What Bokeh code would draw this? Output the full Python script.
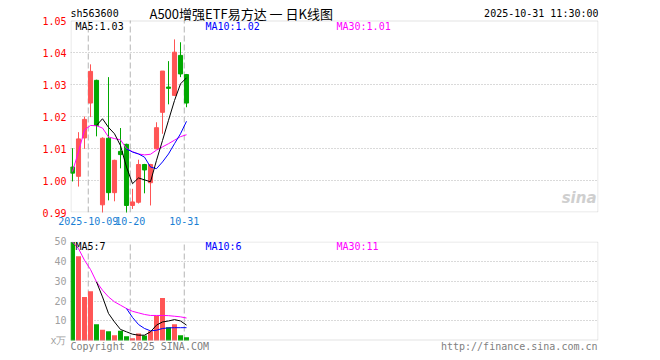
from bokeh.plotting import figure
from bokeh.models import Range1d, FixedTicker, Label, NumeralTickFormatter, BoxAnnotation
from bokeh.layouts import column
from bokeh.embed import file_html
from bokeh.resources import INLINE

# ---------------- data ----------------
dates = ["2025-09-26", "2025-09-29", "2025-09-30", "2025-10-09", "2025-10-10",
         "2025-10-13", "2025-10-14", "2025-10-15", "2025-10-16", "2025-10-17",
         "2025-10-20", "2025-10-21", "2025-10-22", "2025-10-23", "2025-10-24",
         "2025-10-27", "2025-10-28", "2025-10-29", "2025-10-30", "2025-10-31"]
opens  = [1.0042, 1.0013, 1.0133, 1.0242, 1.0313, 0.9924, 1.0132, 0.9962, 1.0091, 1.0113,
          0.9922, 0.9932, 1.0050, 0.9993, 1.0099, 1.0213, 1.0292, 1.0266, 1.0391, 1.0331]
highs  = [1.0101, 1.0151, 1.0200, 1.0363, 1.0315, 1.0135, 1.0323, 1.0065, 1.0164, 1.0115,
          0.9974, 1.0065, 1.0052, 1.0052, 1.0182, 1.0342, 1.0373, 1.0441, 1.0432, 1.0333]
lows   = [0.9997, 0.9981, 1.0099, 1.0198, 1.0138, 0.9898, 0.9938, 0.9935, 1.0038, 0.9898,
          0.9911, 0.9928, 0.9960, 0.9922, 1.0098, 1.0146, 1.0238, 1.0264, 1.0323, 1.0229]
closes = [1.0023, 1.0130, 1.0191, 1.0341, 1.0172, 1.0132, 0.9962, 1.0063, 1.0081, 0.9922,
          0.9933, 1.0050, 1.0033, 1.0050, 1.0165, 1.0342, 1.0288, 1.0401, 1.0333, 1.0242]
NaN = float("nan")
ma5  = [NaN, NaN, NaN, NaN, 1.0172, 1.0193, 1.0166, 1.0146, 1.0109, 1.0042,
        0.9990, 1.0008, 1.0002, 0.9996, 1.0063, 1.0125, 1.0188, 1.0250, 1.0302, 1.0321]
ma10 = [NaN, NaN, NaN, NaN, NaN, NaN, NaN, NaN, NaN, 1.0099,
        1.0089, 1.0083, 1.0073, 1.0042, 1.0037, 1.0058, 1.0083, 1.0115, 1.0146, 1.0185]
ma30 = [1.0028, 1.0090, 1.0158, 1.0172, 1.0171, 1.0164, 1.0136, 1.0131, 1.0127, 1.0100,
        1.0090, 1.0083, 1.0080, 1.0082, 1.0095, 1.0105, 1.0115, 1.0126, 1.0137, 1.0143]

volumes  = [50.0, 42.7, 22.1, 25.0, 8.3, 5.4, 4.7, 2.7, 4.9, 2.2,
            1.2, 3.5, 2.5, 4.7, 12.5, 21.5, 6.7, 8.3, 2.7, 1.7]
vol_ma5  = [NaN, NaN, NaN, NaN, 29.7, 22.1, 13.7, 9.4, 5.6, 4.4,
            3.2, 2.7, 2.7, 4.4, 7.8, 9.4, 9.9, 10.6, 9.9, 7.8]
vol_ma10 = [NaN, NaN, NaN, NaN, NaN, NaN, NaN, NaN, NaN, 16.2,
            11.7, 8.1, 6.1, 4.9, 5.2, 6.1, 6.4, 6.5, 6.5, 6.5]
vol_ma30 = [50.0, 46.6, 40.7, 36.0, 29.7, 25.5, 22.1, 19.6, 17.9, 16.2,
            14.8, 14.0, 13.2, 12.7, 12.7, 12.7, 12.6, 12.3, 12.0, 11.4]

price_ticks = [0.99, 1.00, 1.01, 1.02, 1.03, 1.04, 1.05]
vol_ticks = [0, 10, 20, 30, 40, 50]
date_tick_labels = {"2025-10-09": "2025-10-09", "2025-10-20": "10-20", "2025-10-31": "10-31"}

code = "sh563600"
title = "A500增强ETF易方达 一 日K线图"
stamp = "2025-10-31 11:30:00"
legend_price = ["MA5:1.03", "MA10:1.02", "MA30:1.01"]
legend_vol = ["MA5:7", "MA10:6", "MA30:11"]

# ---------------- style ----------------
RED = "#ff5555"
GREEN = "#00a800"
FRAME = "#a0a0a0"
GRID = "#b4b4b4"
MONO = "DejaVu Sans Mono"
FS = "10px"
idx = list(range(len(dates)))
colors = [RED if c >= o else GREEN for o, c in zip(opens, closes)]
body_top = [max(o, c) for o, c in zip(opens, closes)]
body_bot = [min(o, c) for o, c in zip(opens, closes)]

# x: candle i centred at pixel 72 + 6 i ; frame spans pixels 70..598
XR = (-1 / 3, 526 / 6)
tick_pos = [dates.index(d) - 0.375 for d in date_tick_labels]
tick_over = {dates.index(d) - 0.375: lab for d, lab in date_tick_labels.items()}

# price panel: 32 px per 0.01 ; frame box 20..212, figure frame 0..212 (header inside)
PPU = 3200.0
P_LO, P_HI = price_ticks[0], price_ticks[-1]
P_TOP = P_HI + 20 / PPU
# volume panel: frame box 241..340 ; figure frame 241..360 (footer inside)
V_HI = 50.2
VPU = 99 / V_HI
V_LO = -20 / VPU


def px_x(px):
    return (px - 72) / 6.0


def px_y1(py):
    return P_TOP - py / PPU


def px_y2(py):
    return V_HI - (py - 241) / VPU


def style_yaxis(p, color):
    for ax in p.yaxis:
        ax.axis_line_color = None
        ax.major_tick_in = 0
        ax.major_tick_out = 0
        ax.minor_tick_line_color = None
        ax.major_label_standoff = 4
        ax.major_label_text_font = MONO
        ax.major_label_text_font_size = FS
        ax.major_label_text_color = color


def make_fig(height, top, bottom, yr):
    p = figure(width=660, height=height, output_backend="svg", toolbar_location=None,
               x_range=Range1d(*XR), y_range=Range1d(*yr),
               min_border_left=70, min_border_right=62,
               min_border_top=top, min_border_bottom=bottom,
               background_fill_color="white", border_fill_color="white")
    p.outline_line_color = None
    p.xgrid.visible = False
    p.ygrid.grid_line_color = GRID
    p.ygrid.grid_line_dash = "1 2"
    return p


def lab(p, x, y, text, color="#000000", align="left", font=MONO, size=FS, style="normal"):
    p.add_layout(Label(x=x, y=y, text=text, text_color=color, text_align=align,
                       text_baseline="middle", text_font=font, text_font_size=size,
                       text_font_style=style))


# ---------------- price panel ----------------
p1 = make_fig(232, 0, 20, (P_LO, P_TOP))
p1.yaxis.ticker = FixedTicker(ticks=price_ticks)
p1.yaxis.formatter = NumeralTickFormatter(format="0.00")
p1.yaxis.major_label_overrides = {P_HI: "1.05"}
style_yaxis(p1, "#ff0000")
p1.ygrid.ticker = FixedTicker(ticks=price_ticks[1:-1])
p1.xaxis.ticker = FixedTicker(ticks=tick_pos)
p1.xaxis.major_label_overrides = tick_over
p1.xaxis.axis_line_color = None
p1.xaxis.major_tick_in = 0
p1.xaxis.major_tick_out = 0
p1.xaxis.minor_tick_line_color = None
p1.xaxis.major_label_standoff = 4
p1.xaxis.major_label_text_font = MONO
p1.xaxis.major_label_text_font_size = FS
p1.xaxis.major_label_text_color = "#1a7fd4"

# panel box and date separators
p1.segment(x0=tick_pos, y0=[P_LO] * len(tick_pos), x1=tick_pos, y1=[P_HI] * len(tick_pos),
           line_color=GRID, line_dash="6 3", line_width=1)
p1.add_layout(BoxAnnotation(left=px_x(70.5), right=px_x(597.5),
                            bottom=P_LO + 0.5 / PPU, top=P_HI - 0.5 / PPU,
                            fill_color=None, line_color=FRAME, line_width=1))

p1.segment(x0=idx, y0=lows, x1=idx, y1=highs, line_color=colors, line_width=1)
p1.vbar(x=idx, top=body_top, bottom=body_bot, width=0.68,
        fill_color=colors, line_color=colors, line_width=1)
p1.line(idx, ma30, line_color="#ff00ff", line_width=1)
p1.line(idx, ma10, line_color="#0000ff", line_width=1)
p1.line(idx, ma5, line_color="#000000", line_width=1)

lab(p1, px_x(70), px_y1(13), code)
lab(p1, px_x(149), px_y1(13), title, font="Noto Sans CJK SC", size="13px")
lab(p1, px_x(598), px_y1(13), stamp, align="right")
lab(p1, px_x(75), px_y1(26), legend_price[0], "#000000")
lab(p1, px_x(205), px_y1(26), legend_price[1], "#0000ff")
lab(p1, px_x(336), px_y1(26), legend_price[2], "#ff00ff")
lab(p1, px_x(596), px_y1(197), "sina", "#cfcfcf", align="right",
    font="DejaVu Sans", size="15px", style="bold italic")

# ---------------- volume panel ----------------
p2 = make_fig(128, 9, 0, (V_LO, V_HI))
p2.yaxis.ticker = FixedTicker(ticks=vol_ticks)
p2.yaxis.major_label_overrides = {0: "x万"}
style_yaxis(p2, "#a0a0a0")
p2.ygrid.ticker = FixedTicker(ticks=vol_ticks[1:-1])
p2.xaxis.visible = False

p2.segment(x0=tick_pos, y0=[0] * len(tick_pos), x1=tick_pos, y1=[V_HI] * len(tick_pos),
           line_color=GRID, line_dash="6 3", line_width=1)
p2.add_layout(BoxAnnotation(left=px_x(70.5), right=px_x(597.5),
                            bottom=0.5 / VPU, top=V_HI - 0.5 / VPU,
                            fill_color=None, line_color=FRAME, line_width=1))

p2.vbar(x=idx, top=volumes, bottom=0, width=0.83, fill_color=colors, line_color=None)
p2.line(idx, vol_ma30, line_color="#ff00ff", line_width=1)
p2.line(idx, vol_ma10, line_color="#0000ff", line_width=1)
p2.line(idx, vol_ma5, line_color="#000000", line_width=1)

lab(p2, px_x(75), px_y2(246), legend_vol[0], "#000000")
lab(p2, px_x(205), px_y2(246), legend_vol[1], "#0000ff")
lab(p2, px_x(336), px_y2(246), legend_vol[2], "#ff00ff")
lab(p2, px_x(70), px_y2(346), "Copyright 2025 SINA.COM", "#808080")
lab(p2, px_x(597), px_y2(346), "http://finance.sina.com.cn", "#808080", align="right")

layout = column(p1, p2, spacing=0)
open("out.html", "w").write(file_html(layout, INLINE))
